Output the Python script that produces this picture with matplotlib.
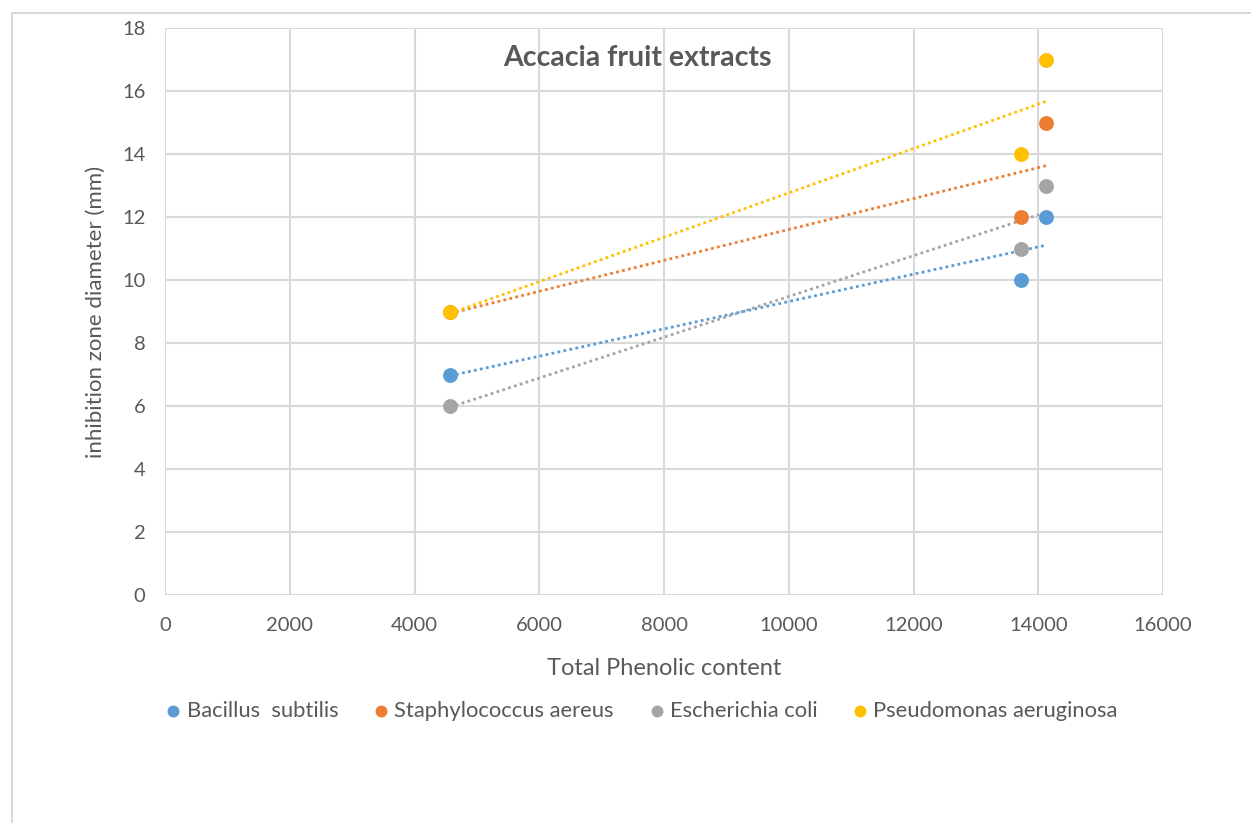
import numpy as np
import matplotlib.pyplot as plt
from matplotlib.patches import Rectangle

# Phenolic content of the three extracts
phenolic = [4570, 13720, 14130]

# Inhibition zone diameter (mm) per organism
bacillus = [7, 10, 12]
staphylococcus = [9, 12, 15]
escherichia = [6, 11, 13]
pseudomonas = [9, 14, 17]

labels = ["Bacillus  subtilis", "Staphylococcus aereus", "Escherichia coli", "Pseudomonas aeruginosa"]
colors = ["#5B9BD5", "#ED7D31", "#A5A5A5", "#FFC000"]

x_ticks = list(range(0, 16001, 2000))
y_ticks = list(range(0, 19, 2))

plt.rcParams['font.family'] = ['Lato', 'DejaVu Sans']
text_grey = "#595959"

fig = plt.figure(figsize=(12.51, 8.23), dpi=100)
fig.patches.append(Rectangle((12 / 1251, -0.1), 1.2, 1 - 13 / 823 + 0.1,
                             transform=fig.transFigure, fill=False,
                             edgecolor="#D9D9D9", linewidth=1.5))

ax = fig.add_axes([165 / 1251, 1 - 595 / 823, (1163 - 165) / 1251, (595 - 28) / 823])

x = np.array(phenolic, dtype=float)
for ys, lab, col in zip([bacillus, staphylococcus, escherichia, pseudomonas], labels, colors):
    ys = np.array(ys, dtype=float)
    # linear trendline over the data range
    k, b = np.polyfit(x, ys, 1)
    xt = np.array([x.min(), x.max()])
    ax.plot(xt, k * xt + b, color=col, linewidth=2.0, linestyle=(0, (1, 1.2)), zorder=2)
    ax.scatter(x, ys, s=115, color=col, label=lab, zorder=3, linewidths=0)

ax.set_xlim(0, 16000)
ax.set_ylim(0, 18)
ax.set_xticks(x_ticks)
ax.set_yticks(y_ticks)
ax.grid(True, color="#D9D9D9", linewidth=1.5)
ax.set_axisbelow(True)
for sp in ax.spines.values():
    sp.set_visible(False)
ax.tick_params(length=0, labelsize=14.5, colors=text_grey)
ax.tick_params(axis="x", pad=16)
ax.tick_params(axis="y", pad=14)

ax.set_xlabel("Total Phenolic content", fontsize=17, color=text_grey, labelpad=17)
ax.set_ylabel("inhibition zone diameter (mm)", fontsize=16, color=text_grey, labelpad=12)
ax.text(0.473, 0.947, "Accacia fruit extracts", transform=ax.transAxes, ha="center",
        va="center", fontsize=20.5, fontweight="bold", color=text_grey)

fig.legend(loc="center left", bbox_to_anchor=(157 / 1251, 1 - 711 / 823), ncol=4,
           frameon=False, fontsize=15.8, labelcolor=text_grey, handlelength=0.7,
           handletextpad=0.25, columnspacing=1.6, markerscale=0.8, borderaxespad=0)

fig.savefig("out.png", dpi=100)
